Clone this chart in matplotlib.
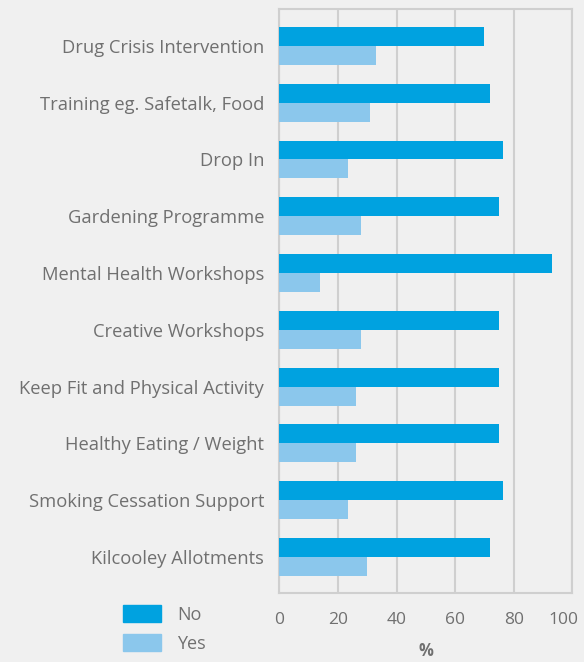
import numpy as np
import matplotlib.pyplot as plt
import matplotlib.transforms as mtransforms
from matplotlib.patches import Patch

# survey results (% of respondents)
categories = ["Drug Crisis Intervention", "Training eg. Safetalk, Food", "Drop In",
              "Gardening Programme", "Mental Health Workshops", "Creative Workshops",
              "Keep Fit and Physical Activity", "Healthy Eating / Weight",
              "Smoking Cessation Support", "Kilcooley Allotments"]
no_vals = [70, 72, 76.5, 75, 93, 75, 75, 75, 76.5, 72]
yes_vals = [33, 31, 23.5, 28, 14, 28, 26, 26, 23.5, 30]
xticks = [0, 20, 40, 60, 80, 100]

bg = "#f0f0f0"
no_color = "#00a2e0"
yes_color = "#8bc7ec"
text_color = "#707070"

plt.rcParams['font.family'] = ['Open Sans', 'DejaVu Sans']

fig = plt.figure(figsize=(5.84, 6.62), dpi=100, facecolor=bg)
ax = fig.add_axes([0.4783, 0.1047, 0.5017, 0.8813], facecolor=bg)

y = np.arange(len(categories))
h = 0.334
ax.barh(y - h / 2, no_vals, height=h, color=no_color, zorder=3)
ax.barh(y + h / 2, yes_vals, height=h, color=yes_color, zorder=3)

ax.set_ylim(9.63, -0.646)
ax.set_xlim(0, 100)
ax.set_yticks(y)
ax.set_yticklabels(categories, fontsize=13.2, color=text_color)
ax.set_xticks(xticks)
ax.set_xticklabels([str(t) for t in xticks], fontsize=12.5, color=text_color)
ax.tick_params(length=0)
ax.tick_params(axis="x", pad=14)
ax.tick_params(axis="y", pad=11)

# keep the last tick label inside the figure
last = ax.get_xticklabels()[-1]
last.set_transform(last.get_transform() + mtransforms.ScaledTranslation(-9 / 100, 0, fig.dpi_scale_trans))

ax.xaxis.grid(True, color="#cfcfcf", linewidth=1.5, zorder=0)
for s in ax.spines.values():
    s.set_color("#cfcfcf")
    s.set_linewidth(1.5)
ax.set_xlabel("%", fontsize=12, fontweight="bold", color=text_color, labelpad=10)

handles = [Patch(color=no_color, label="No"), Patch(color=yes_color, label="Yes")]
fig.legend(handles=handles, loc="upper left", bbox_to_anchor=(0.195, 0.0996), frameon=False,
           fontsize=13, labelcolor=text_color, handlelength=2.1, handleheight=1.05,
           handletextpad=0.9, labelspacing=0.6, borderpad=0)

fig.savefig("out.png", facecolor=bg)
